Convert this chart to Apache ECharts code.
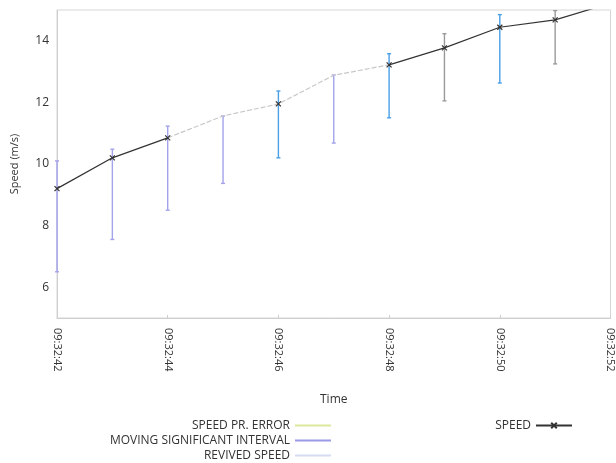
<!DOCTYPE html>
<html>
<head>
<meta charset="utf-8">
<script src="https://cdn.jsdelivr.net/npm/echarts@6/dist/echarts.min.js"></script>
<style>
  html, body { margin: 0; padding: 0; background: #fff; }
  #chart { width: 616px; height: 463px; }
</style>
</head>
<body>
<div id="chart"></div>
<script>
// time stamps (1 s apart)
var times = ['09:32:42', '09:32:43', '09:32:44', '09:32:45', '09:32:46', '09:32:47',
             '09:32:48', '09:32:49', '09:32:50', '09:32:51', '09:32:52'];

// measured speed (null where revived)
var speed = [9.2, 10.2, 10.85, null, 11.95, null, 13.22, 13.77, 14.44, 14.68, 15.22];
// revived speed line
var revived = [null, null, 10.85, 11.56, 11.95, 12.88, 13.22, null, null, null, null];

// moving significant interval (lavender bars)
var sigLow  = [6.5, 7.55, 8.5, 9.37, null, 10.68, null, null, null, null, null];
var sigHigh = [10.1, 10.48, 11.23, 11.56, null, 12.89, null, null, null, null, null];
// blue bars
var errLow  = [null, null, null, null, 10.2, null, 11.5, null, 12.63, null, null];
var errHigh = [null, null, null, null, 12.37, null, 13.58, null, 14.85, null, null];
// gray bars
var grayLow  = [null, null, null, null, null, null, null, 12.05, null, 13.25, null];
var grayHigh = [null, null, null, null, null, null, null, 14.23, null, 14.98, null];

var yLabels = [6, 8, 10, 12, 14];

function bars(low, high) {
    var out = [];
    for (var i = 0; i < times.length; i++) {
        if (low[i] != null) out.push([i, low[i], high[i]]);
    }
    return out;
}

function errorBar(color) {
    return function (params, api) {
        var x = api.value(0);
        var a = api.coord([x, api.value(1)]);
        var b = api.coord([x, api.value(2)]);
        var st = { stroke: color, lineWidth: 1.4 };
        return {
            type: 'group',
            children: [
                { type: 'line', shape: { x1: a[0], y1: a[1], x2: b[0], y2: b[1] }, style: st },
                { type: 'line', shape: { x1: a[0] - 2, y1: a[1], x2: a[0] + 2, y2: a[1] }, style: st },
                { type: 'line', shape: { x1: b[0] - 2, y1: b[1], x2: b[0] + 2, y2: b[1] }, style: st }
            ]
        };
    };
}

var font = '"Open Sans", "Noto Sans", sans-serif';
var xMark = 'path://M0,0L10,10M10,0L0,10';

var chart = echarts.init(document.getElementById('chart'));
chart.setOption({
    backgroundColor: '#fff',
    animation: false,
    textStyle: { fontFamily: font },
    grid: {
        left: 57, right: 3, top: 10, bottom: 145,
        show: true, borderColor: '#d6d6d6', borderWidth: 1
    },
    legend: [
        {
            orient: 'vertical',
            right: 285, top: 419,
            padding: 0,
            align: 'right',
            itemGap: 2,
            itemWidth: 36, itemHeight: 2,
            textStyle: { fontSize: 12, lineHeight: 13, color: '#333', fontFamily: font },
            data: [
                { name: 'SPEED PR. ERROR', icon: 'rect', itemStyle: { color: '#dbe89a' } },
                { name: 'MOVING SIGNIFICANT INTERVAL', icon: 'rect', itemStyle: { color: '#9a9ae8' } },
                { name: 'REVIVED SPEED', icon: 'rect', itemStyle: { color: '#d6dcf2' } }
            ]
        },
        {
            right: 43, top: 419,
            padding: 0,
            align: 'right',
            itemWidth: 36, itemHeight: 7,
            textStyle: { fontSize: 12, lineHeight: 13, color: '#333', fontFamily: font },
            data: ['SPEED']
        }
    ],
    xAxis: {
        type: 'category',
        data: times,
        boundaryGap: false,
        name: 'Time',
        nameLocation: 'middle',
        nameGap: 76,
        nameTextStyle: { fontSize: 12, color: '#333' },
        axisLine: { lineStyle: { color: '#cfcfcf' } },
        axisTick: { show: true, interval: 1, length: 3, inside: true, lineStyle: { color: '#cfcfcf' } },
        axisLabel: { interval: 1, rotate: -90, margin: 10, fontSize: 11, color: '#333' },
        splitLine: { show: false }
    },
    yAxis: {
        type: 'value',
        min: 5, max: 15, interval: 1,
        name: 'Speed (m/s)',
        nameLocation: 'middle',
        nameGap: 37,
        nameTextStyle: { fontSize: 11, color: '#333' },
        axisLine: { show: true, lineStyle: { color: '#cfcfcf' } },
        axisTick: { show: false },
        axisLabel: {
            fontSize: 12, color: '#333', margin: 8,
            formatter: function (v) { return yLabels.indexOf(v) >= 0 ? String(v) : ''; }
        },
        splitLine: { show: false }
    },
    series: [
        {
            name: 'MOVING SIGNIFICANT INTERVAL',
            type: 'custom',
            clip: false,
            itemStyle: { color: '#9a9ae8' },
            renderItem: errorBar('#a3a3ec'),
            data: bars(sigLow, sigHigh),
            z: 2
        },
        {
            name: 'blue interval',
            type: 'custom',
            clip: true,
            renderItem: errorBar('#4a9fe6'),
            data: bars(errLow, errHigh),
            z: 2
        },
        {
            name: 'gray interval',
            type: 'custom',
            clip: true,
            renderItem: errorBar('#9a9a9a'),
            data: bars(grayLow, grayHigh),
            z: 2
        },
        {
            name: 'SPEED PR. ERROR',
            type: 'line',
            itemStyle: { color: '#dbe89a' },
            data: []
        },
        {
            name: 'REVIVED SPEED',
            type: 'line',
            data: revived,
            showSymbol: false,
            clip: true,
            itemStyle: { color: '#d6dcf2' },
            lineStyle: { color: '#c8c8c8', width: 1.2, type: [5, 2] },
            z: 3
        },
        {
            name: 'SPEED',
            type: 'line',
            data: speed,
            connectNulls: false,
            clip: true,
            symbol: xMark,
            symbolSize: 5,
            itemStyle: { color: '#333', borderColor: '#333', borderWidth: 1.2 },
            lineStyle: { color: '#333', width: 1.2 },
            z: 4
        }
    ]
});
</script>
</body>
</html>
